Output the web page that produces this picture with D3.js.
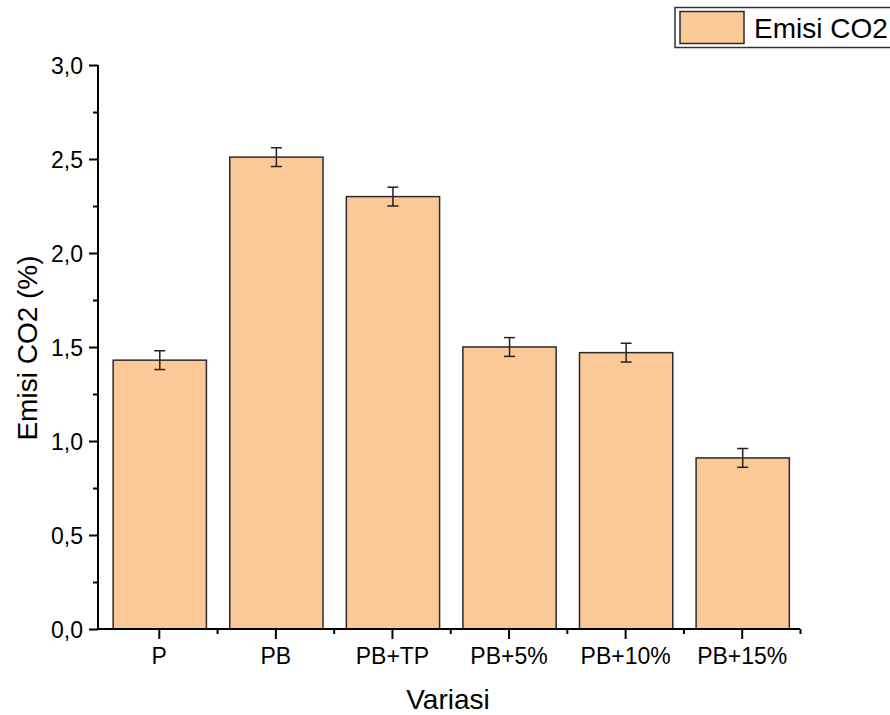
<!DOCTYPE html>
<html>
<head>
<meta charset="utf-8">
<script src="https://cdn.jsdelivr.net/npm/d3@7"></script>
<style>
  html, body { margin: 0; padding: 0; background: #fff; }
  svg { display: block; font-family: "Liberation Sans", Arial, sans-serif; }
</style>
</head>
<body>
<svg id="chart" width="890" height="715"></svg>
<script>
// Variations and measured CO2 emission (%), with standard error
const categories = ["P", "PB", "PB+TP", "PB+5%", "PB+10%", "PB+15%"];
const emission = [1.43, 2.51, 2.30, 1.50, 1.47, 0.91];
const errors = [0.05, 0.05, 0.05, 0.05, 0.05, 0.05];
const yTicks = [0, 0.5, 1.0, 1.5, 2.0, 2.5, 3.0];
const yMinorTicks = [0.25, 0.75, 1.25, 1.75, 2.25, 2.75];

const svg = d3.select("#chart");
const plot = { left: 98, right: 800, top: 65, bottom: 629 };

const x = d3.scaleLinear().domain([0.5, categories.length + 0.5]).range([100.5, plot.right]);
const y = d3.scaleLinear().domain([0, 3]).range([plot.bottom, plot.top]);
const band = x(1) - x(0);
const barW = band * 0.8;

const fmt = v => d3.format(".1f")(v).replace(".", ",");

// bars
svg.append("g").selectAll("rect").data(emission).join("rect")
  .attr("x", (d, i) => x(i + 1) - barW / 2 + 1)
  .attr("y", d => y(d))
  .attr("width", barW)
  .attr("height", d => y(0) - y(d))
  .attr("fill", "#FBC898")
  .attr("stroke", "#2b2b2b")
  .attr("stroke-width", 1.5);

// error bars
const eg = svg.append("g").attr("stroke", "#222").attr("stroke-width", 1.5);
emission.forEach((v, i) => {
  const cx = x(i + 1) + 1;
  eg.append("line").attr("x1", cx).attr("x2", cx).attr("y1", y(v + errors[i])).attr("y2", y(v - errors[i]));
  [v + errors[i], v - errors[i]].forEach(e => {
    eg.append("line").attr("x1", cx - 5.5).attr("x2", cx + 5.5).attr("y1", y(e)).attr("y2", y(e));
  });
});

// y axis
const yAxis = svg.append("g").attr("transform", `translate(${plot.left},0)`)
  .call(d3.axisLeft(y).tickValues(yTicks).tickFormat(fmt).tickSize(9).tickPadding(6));
svg.append("g").attr("transform", `translate(${plot.left},0)`)
  .call(d3.axisLeft(y).tickValues(yMinorTicks).tickFormat("").tickSize(5))
  .select(".domain").remove();

// x axis
const xAxis = svg.append("g").attr("transform", `translate(0,${plot.bottom})`)
  .call(d3.axisBottom(x).tickValues(d3.range(1, categories.length + 1))
    .tickFormat(d => categories[d - 1]).tickSize(10).tickPadding(9));
svg.append("g").attr("transform", `translate(0,${plot.bottom})`)
  .call(d3.axisBottom(x).tickValues(d3.range(1.5, categories.length + 1, 1)).tickFormat("").tickSize(5))
  .select(".domain").remove();

svg.selectAll("g.tick line, .domain").attr("stroke", "#000").attr("stroke-width", 2);
svg.selectAll("g.tick text").attr("font-size", 23).attr("fill", "#000")
  .attr("font-family", "'Liberation Sans', Arial, sans-serif");
yAxis.selectAll("g.tick text").attr("dy", "0.36em");

// plain axis lines without outer ticks
yAxis.select(".domain").attr("d", `M0,${plot.bottom}V${plot.top}`);
xAxis.select(".domain").attr("d", `M${plot.left},0H${plot.right}`);

// axis titles
svg.append("text").attr("x", 448).attr("y", 709)
  .attr("text-anchor", "middle").attr("font-size", 28).attr("fill", "#000").text("Variasi");
svg.append("text").attr("transform", `translate(37,348) rotate(-90)`)
  .attr("text-anchor", "middle").attr("font-size", 28).attr("fill", "#000").text("Emisi CO2 (%)");

// legend
const lg = svg.append("g");
lg.append("rect").attr("x", 675).attr("y", 7.5).attr("width", 230).attr("height", 40)
  .attr("fill", "#fff").attr("stroke", "#333").attr("stroke-width", 1.5);
lg.append("rect").attr("x", 680).attr("y", 11.5).attr("width", 64).attr("height", 32)
  .attr("fill", "#FBC898").attr("stroke", "#2b2b2b").attr("stroke-width", 1.5);
lg.append("text").attr("x", 754).attr("y", 38).attr("font-size", 28).attr("fill", "#000").text("Emisi CO2");
</script>
</body>
</html>
